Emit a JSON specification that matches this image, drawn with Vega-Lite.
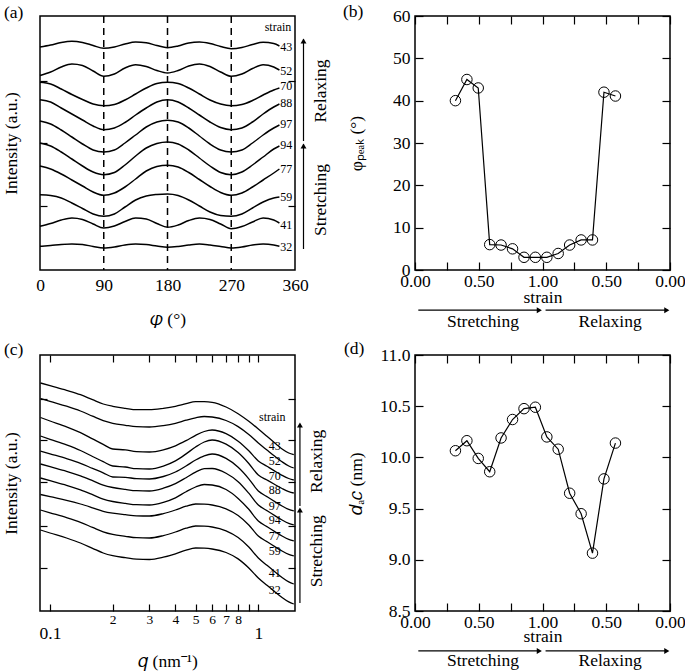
{
"$schema": "https://vega.github.io/schema/vega-lite/v6.json",
"background": "white",
"padding": {"left": 1, "top": 1, "right": 5, "bottom": 2},
"bounds": "flush",
"columns": 2,
"spacing": {"row": 85, "column": 120},
"config": {
  "view": {"stroke": "black", "strokeWidth": 1.5},
  "font": "Liberation Serif",
  "style": {"guide-label": {"font": "Liberation Serif", "fill": "black"}, "guide-title": {"font": "Liberation Serif", "fill": "black"}},
  "axis": {"labelFont": "Liberation Serif", "titleFont": "Liberation Serif", "labelColor": "black", "titleColor": "black", "tickColor": "black", "tickWidth": 1.2, "domain": false, "grid": false, "labelFontSize": 17.5, "titleFontSize": 17.5, "titleFontWeight": "normal", "labelFlush": false, "labelOverlap": false},
  "title": {"font": "Liberation Serif", "fontSize": 17.5, "fontWeight": "normal", "anchor": "start", "frame": "group", "color": "black"},
  "text": {"font": "Liberation Serif", "color": "black"}
},
"datasets": {
"a": [
{"s":"43","p":0,"v":22.3},{"s":"43","p":15,"v":22.5},{"s":"43","p":30,"v":22.75},{"s":"43","p":45,"v":22.87},{"s":"43","p":60,"v":22.75},{"s":"43","p":75,"v":22.45},{"s":"43","p":90,"v":22.17},{"s":"43","p":105,"v":22.3},{"s":"43","p":120,"v":22.6},{"s":"43","p":135,"v":22.8},{"s":"43","p":150,"v":22.72},{"s":"43","p":165,"v":22.45},{"s":"43","p":180,"v":22.23},{"s":"43","p":195,"v":22.4},{"s":"43","p":210,"v":22.7},{"s":"43","p":225,"v":22.8},{"s":"43","p":240,"v":22.65},{"s":"43","p":255,"v":22.35},{"s":"43","p":270,"v":22.13},{"s":"43","p":285,"v":22.25},{"s":"43","p":300,"v":22.55},{"s":"43","p":315,"v":22.77},{"s":"43","p":330,"v":22.65},{"s":"43","p":338,"v":22.4},
{"s":"52","p":0,"v":19.45},{"s":"52","p":15,"v":19.8},{"s":"52","p":30,"v":20.3},{"s":"52","p":45,"v":20.6},{"s":"52","p":60,"v":20.45},{"s":"52","p":75,"v":19.9},{"s":"52","p":90,"v":19.37},{"s":"52","p":105,"v":19.6},{"s":"52","p":120,"v":20.2},{"s":"52","p":135,"v":20.53},{"s":"52","p":150,"v":20.35},{"s":"52","p":165,"v":19.95},{"s":"52","p":180,"v":19.7},{"s":"52","p":195,"v":19.95},{"s":"52","p":210,"v":20.4},{"s":"52","p":225,"v":20.6},{"s":"52","p":240,"v":20.35},{"s":"52","p":255,"v":19.8},{"s":"52","p":270,"v":19.37},{"s":"52","p":285,"v":19.6},{"s":"52","p":300,"v":20.15},{"s":"52","p":315,"v":20.53},{"s":"52","p":330,"v":20.3},{"s":"52","p":338,"v":20.0},
{"s":"70","p":0,"v":18.77},{"s":"70","p":15,"v":18.6},{"s":"70","p":30,"v":18.1},{"s":"70","p":45,"v":17.55},{"s":"70","p":60,"v":17.05},{"s":"70","p":75,"v":16.6},{"s":"70","p":90,"v":16.43},{"s":"70","p":105,"v":16.55},{"s":"70","p":120,"v":17.0},{"s":"70","p":135,"v":17.6},{"s":"70","p":150,"v":18.2},{"s":"70","p":165,"v":18.65},{"s":"70","p":180,"v":18.77},{"s":"70","p":195,"v":18.65},{"s":"70","p":210,"v":18.2},{"s":"70","p":225,"v":17.6},{"s":"70","p":240,"v":17.0},{"s":"70","p":255,"v":16.6},{"s":"70","p":270,"v":16.43},{"s":"70","p":285,"v":16.55},{"s":"70","p":300,"v":16.95},{"s":"70","p":315,"v":17.5},{"s":"70","p":330,"v":18.0},{"s":"70","p":338,"v":18.2},
{"s":"88","p":0,"v":17.03},{"s":"88","p":15,"v":16.8},{"s":"88","p":30,"v":16.2},{"s":"88","p":45,"v":15.6},{"s":"88","p":60,"v":15.0},{"s":"88","p":75,"v":14.4},{"s":"88","p":90,"v":14.03},{"s":"88","p":105,"v":14.2},{"s":"88","p":120,"v":14.75},{"s":"88","p":135,"v":15.5},{"s":"88","p":150,"v":16.2},{"s":"88","p":165,"v":16.8},{"s":"88","p":180,"v":17.03},{"s":"88","p":195,"v":16.8},{"s":"88","p":210,"v":16.2},{"s":"88","p":225,"v":15.5},{"s":"88","p":240,"v":14.8},{"s":"88","p":255,"v":14.25},{"s":"88","p":270,"v":14.03},{"s":"88","p":285,"v":14.2},{"s":"88","p":300,"v":14.8},{"s":"88","p":315,"v":15.6},{"s":"88","p":330,"v":16.3},{"s":"88","p":338,"v":16.6},
{"s":"97","p":0,"v":14.9},{"s":"97","p":15,"v":14.6},{"s":"97","p":30,"v":14.0},{"s":"97","p":45,"v":13.3},{"s":"97","p":60,"v":12.6},{"s":"97","p":75,"v":12.0},{"s":"97","p":90,"v":11.8},{"s":"97","p":105,"v":12.0},{"s":"97","p":120,"v":12.7},{"s":"97","p":135,"v":13.5},{"s":"97","p":150,"v":14.3},{"s":"97","p":165,"v":14.8},{"s":"97","p":180,"v":14.97},{"s":"97","p":195,"v":14.8},{"s":"97","p":210,"v":14.2},{"s":"97","p":225,"v":13.4},{"s":"97","p":240,"v":12.6},{"s":"97","p":255,"v":12.0},{"s":"97","p":270,"v":11.8},{"s":"97","p":285,"v":12.0},{"s":"97","p":300,"v":12.7},{"s":"97","p":315,"v":13.5},{"s":"97","p":330,"v":14.2},{"s":"97","p":338,"v":14.5},
{"s":"94","p":0,"v":12.7},{"s":"94","p":15,"v":12.4},{"s":"94","p":30,"v":11.8},{"s":"94","p":45,"v":11.1},{"s":"94","p":60,"v":10.4},{"s":"94","p":75,"v":9.8},{"s":"94","p":90,"v":9.53},{"s":"94","p":105,"v":9.75},{"s":"94","p":120,"v":10.5},{"s":"94","p":135,"v":11.4},{"s":"94","p":150,"v":12.2},{"s":"94","p":165,"v":12.65},{"s":"94","p":180,"v":12.8},{"s":"94","p":195,"v":12.6},{"s":"94","p":210,"v":12.0},{"s":"94","p":225,"v":11.2},{"s":"94","p":240,"v":10.4},{"s":"94","p":255,"v":9.75},{"s":"94","p":270,"v":9.53},{"s":"94","p":285,"v":9.8},{"s":"94","p":300,"v":10.5},{"s":"94","p":315,"v":11.3},{"s":"94","p":330,"v":12.1},{"s":"94","p":338,"v":12.4},
{"s":"77","p":0,"v":10.4},{"s":"77","p":15,"v":10.1},{"s":"77","p":30,"v":9.6},{"s":"77","p":45,"v":9.0},{"s":"77","p":60,"v":8.4},{"s":"77","p":75,"v":7.8},{"s":"77","p":90,"v":7.47},{"s":"77","p":105,"v":7.7},{"s":"77","p":120,"v":8.3},{"s":"77","p":135,"v":9.1},{"s":"77","p":150,"v":9.9},{"s":"77","p":165,"v":10.35},{"s":"77","p":180,"v":10.47},{"s":"77","p":195,"v":10.3},{"s":"77","p":210,"v":9.75},{"s":"77","p":225,"v":9.05},{"s":"77","p":240,"v":8.35},{"s":"77","p":255,"v":7.75},{"s":"77","p":270,"v":7.47},{"s":"77","p":285,"v":7.7},{"s":"77","p":300,"v":8.3},{"s":"77","p":315,"v":9.0},{"s":"77","p":330,"v":9.7},{"s":"77","p":338,"v":10.1},
{"s":"59","p":0,"v":7.53},{"s":"59","p":15,"v":7.45},{"s":"59","p":30,"v":7.2},{"s":"59","p":45,"v":6.7},{"s":"59","p":60,"v":6.15},{"s":"59","p":75,"v":5.6},{"s":"59","p":90,"v":5.37},{"s":"59","p":105,"v":5.6},{"s":"59","p":120,"v":6.3},{"s":"59","p":135,"v":7.0},{"s":"59","p":150,"v":7.4},{"s":"59","p":165,"v":7.55},{"s":"59","p":180,"v":7.6},{"s":"59","p":195,"v":7.45},{"s":"59","p":210,"v":7.0},{"s":"59","p":225,"v":6.4},{"s":"59","p":240,"v":5.8},{"s":"59","p":255,"v":5.45},{"s":"59","p":270,"v":5.37},{"s":"59","p":285,"v":5.6},{"s":"59","p":300,"v":6.2},{"s":"59","p":315,"v":6.8},{"s":"59","p":330,"v":7.2},{"s":"59","p":338,"v":7.3},
{"s":"41","p":0,"v":4.37},{"s":"41","p":15,"v":4.65},{"s":"41","p":30,"v":5.0},{"s":"41","p":45,"v":5.2},{"s":"41","p":60,"v":5.05},{"s":"41","p":75,"v":4.6},{"s":"41","p":90,"v":4.2},{"s":"41","p":105,"v":4.4},{"s":"41","p":120,"v":4.85},{"s":"41","p":135,"v":5.2},{"s":"41","p":150,"v":5.1},{"s":"41","p":165,"v":4.65},{"s":"41","p":180,"v":4.27},{"s":"41","p":195,"v":4.5},{"s":"41","p":210,"v":4.95},{"s":"41","p":225,"v":5.2},{"s":"41","p":240,"v":5.05},{"s":"41","p":255,"v":4.6},{"s":"41","p":270,"v":4.13},{"s":"41","p":285,"v":4.35},{"s":"41","p":300,"v":4.8},{"s":"41","p":315,"v":5.2},{"s":"41","p":330,"v":5.0},{"s":"41","p":338,"v":4.7},
{"s":"32","p":0,"v":2.37},{"s":"32","p":15,"v":2.45},{"s":"32","p":30,"v":2.55},{"s":"32","p":45,"v":2.6},{"s":"32","p":60,"v":2.55},{"s":"32","p":75,"v":2.35},{"s":"32","p":90,"v":2.2},{"s":"32","p":105,"v":2.3},{"s":"32","p":120,"v":2.5},{"s":"32","p":135,"v":2.6},{"s":"32","p":150,"v":2.55},{"s":"32","p":165,"v":2.4},{"s":"32","p":180,"v":2.27},{"s":"32","p":195,"v":2.35},{"s":"32","p":210,"v":2.5},{"s":"32","p":225,"v":2.6},{"s":"32","p":240,"v":2.5},{"s":"32","p":255,"v":2.35},{"s":"32","p":270,"v":2.2},{"s":"32","p":285,"v":2.3},{"s":"32","p":300,"v":2.5},{"s":"32","p":315,"v":2.6},{"s":"32","p":330,"v":2.5},{"s":"32","p":338,"v":2.37}
],
"c": [
{"s":"43","q":0.09,"v":22.8},{"s":"43","q":0.1,"v":22.53},{"s":"43","q":0.12,"v":22.07},{"s":"43","q":0.14,"v":21.63},{"s":"43","q":0.16,"v":21.13},{"s":"43","q":0.18,"v":20.7},{"s":"43","q":0.2,"v":20.47},{"s":"43","q":0.23,"v":20.27},{"s":"43","q":0.26,"v":20.13},{"s":"43","q":0.3,"v":20.13},{"s":"43","q":0.35,"v":20.27},{"s":"43","q":0.4,"v":20.47},{"s":"43","q":0.45,"v":20.73},{"s":"43","q":0.5,"v":20.93},{"s":"43","q":0.55,"v":20.93},{"s":"43","q":0.6,"v":20.87},{"s":"43","q":0.7,"v":20.4},{"s":"43","q":0.8,"v":19.73},{"s":"43","q":0.9,"v":18.97},{"s":"43","q":1.0,"v":18.2},{"s":"43","q":1.1,"v":17.47},{"s":"43","q":1.2,"v":16.8},{"s":"43","q":1.3,"v":16.2},{"s":"43","q":1.4,"v":15.8},{"s":"43","q":1.48,"v":15.63},
{"s":"52","q":0.09,"v":21.25},{"s":"52","q":0.1,"v":20.96},{"s":"52","q":0.12,"v":20.48},{"s":"52","q":0.14,"v":20.0},{"s":"52","q":0.16,"v":19.48},{"s":"52","q":0.18,"v":19.03},{"s":"52","q":0.2,"v":18.77},{"s":"52","q":0.23,"v":18.57},{"s":"52","q":0.26,"v":18.43},{"s":"52","q":0.3,"v":18.4},{"s":"52","q":0.35,"v":18.54},{"s":"52","q":0.4,"v":18.77},{"s":"52","q":0.45,"v":19.08},{"s":"52","q":0.5,"v":19.32},{"s":"52","q":0.55,"v":19.45},{"s":"52","q":0.6,"v":19.4},{"s":"52","q":0.7,"v":19.05},{"s":"52","q":0.8,"v":18.44},{"s":"52","q":0.9,"v":17.65},{"s":"52","q":1.0,"v":16.8},{"s":"52","q":1.1,"v":16.1},{"s":"52","q":1.2,"v":15.47},{"s":"52","q":1.3,"v":14.92},{"s":"52","q":1.4,"v":14.5},{"s":"52","q":1.48,"v":14.3},
{"s":"70","q":0.09,"v":19.35},{"s":"70","q":0.1,"v":19.0},{"s":"70","q":0.12,"v":18.42},{"s":"70","q":0.14,"v":17.83},{"s":"70","q":0.16,"v":17.21},{"s":"70","q":0.18,"v":16.66},{"s":"70","q":0.2,"v":16.2},{"s":"70","q":0.23,"v":16.11},{"s":"70","q":0.26,"v":15.93},{"s":"70","q":0.3,"v":15.9},{"s":"70","q":0.35,"v":16.12},{"s":"70","q":0.4,"v":16.52},{"s":"70","q":0.45,"v":17.04},{"s":"70","q":0.5,"v":17.57},{"s":"70","q":0.55,"v":17.95},{"s":"70","q":0.6,"v":18.1},{"s":"70","q":0.7,"v":17.73},{"s":"70","q":0.8,"v":16.98},{"s":"70","q":0.9,"v":16.02},{"s":"70","q":1.0,"v":15.0},{"s":"70","q":1.1,"v":14.47},{"s":"70","q":1.2,"v":13.99},{"s":"70","q":1.3,"v":13.57},{"s":"70","q":1.4,"v":13.25},{"s":"70","q":1.48,"v":13.1},
{"s":"88","q":0.09,"v":17.5},{"s":"88","q":0.1,"v":17.17},{"s":"88","q":0.12,"v":16.61},{"s":"88","q":0.14,"v":16.05},{"s":"88","q":0.16,"v":15.45},{"s":"88","q":0.18,"v":14.93},{"s":"88","q":0.2,"v":14.5},{"s":"88","q":0.23,"v":14.4},{"s":"88","q":0.26,"v":14.23},{"s":"88","q":0.3,"v":14.2},{"s":"88","q":0.35,"v":14.49},{"s":"88","q":0.4,"v":15.01},{"s":"88","q":0.45,"v":15.71},{"s":"88","q":0.5,"v":16.4},{"s":"88","q":0.55,"v":16.9},{"s":"88","q":0.6,"v":17.1},{"s":"88","q":0.7,"v":16.68},{"s":"88","q":0.8,"v":15.84},{"s":"88","q":0.9,"v":14.75},{"s":"88","q":1.0,"v":13.6},{"s":"88","q":1.1,"v":13.1},{"s":"88","q":1.2,"v":12.65},{"s":"88","q":1.3,"v":12.25},{"s":"88","q":1.4,"v":11.94},{"s":"88","q":1.48,"v":11.8},
{"s":"97","q":0.09,"v":16.0},{"s":"97","q":0.1,"v":15.72},{"s":"97","q":0.12,"v":15.24},{"s":"97","q":0.14,"v":14.77},{"s":"97","q":0.16,"v":14.26},{"s":"97","q":0.18,"v":13.82},{"s":"97","q":0.2,"v":13.4},{"s":"97","q":0.23,"v":13.37},{"s":"97","q":0.26,"v":13.23},{"s":"97","q":0.3,"v":13.2},{"s":"97","q":0.35,"v":13.45},{"s":"97","q":0.4,"v":13.9},{"s":"97","q":0.45,"v":14.5},{"s":"97","q":0.5,"v":15.1},{"s":"97","q":0.55,"v":15.52},{"s":"97","q":0.6,"v":15.7},{"s":"97","q":0.7,"v":15.26},{"s":"97","q":0.8,"v":14.37},{"s":"97","q":0.9,"v":13.22},{"s":"97","q":1.0,"v":12.0},{"s":"97","q":1.1,"v":11.44},{"s":"97","q":1.2,"v":10.94},{"s":"97","q":1.3,"v":10.5},{"s":"97","q":1.4,"v":10.16},{"s":"97","q":1.48,"v":10.0},
{"s":"94","q":0.09,"v":14.7},{"s":"94","q":0.1,"v":14.43},{"s":"94","q":0.12,"v":13.97},{"s":"94","q":0.14,"v":13.51},{"s":"94","q":0.16,"v":13.03},{"s":"94","q":0.18,"v":12.59},{"s":"94","q":0.2,"v":12.35},{"s":"94","q":0.23,"v":12.16},{"s":"94","q":0.26,"v":12.03},{"s":"94","q":0.3,"v":12.0},{"s":"94","q":0.35,"v":12.28},{"s":"94","q":0.4,"v":12.74},{"s":"94","q":0.45,"v":13.33},{"s":"94","q":0.5,"v":13.89},{"s":"94","q":0.55,"v":14.23},{"s":"94","q":0.6,"v":14.25},{"s":"94","q":0.7,"v":13.78},{"s":"94","q":0.8,"v":12.93},{"s":"94","q":0.9,"v":11.78},{"s":"94","q":1.0,"v":10.6},{"s":"94","q":1.1,"v":10.04},{"s":"94","q":1.2,"v":9.54},{"s":"94","q":1.3,"v":9.1},{"s":"94","q":1.4,"v":8.76},{"s":"94","q":1.48,"v":8.6},
{"s":"77","q":0.09,"v":13.3},{"s":"77","q":0.1,"v":13.03},{"s":"77","q":0.12,"v":12.57},{"s":"77","q":0.14,"v":12.11},{"s":"77","q":0.16,"v":11.63},{"s":"77","q":0.18,"v":11.19},{"s":"77","q":0.2,"v":10.95},{"s":"77","q":0.23,"v":10.76},{"s":"77","q":0.26,"v":10.63},{"s":"77","q":0.3,"v":10.6},{"s":"77","q":0.35,"v":10.87},{"s":"77","q":0.4,"v":11.32},{"s":"77","q":0.45,"v":11.93},{"s":"77","q":0.5,"v":12.4},{"s":"77","q":0.55,"v":12.65},{"s":"77","q":0.6,"v":12.6},{"s":"77","q":0.7,"v":12.15},{"s":"77","q":0.8,"v":11.26},{"s":"77","q":0.9,"v":10.17},{"s":"77","q":1.0,"v":9.0},{"s":"77","q":1.1,"v":8.44},{"s":"77","q":1.2,"v":7.94},{"s":"77","q":1.3,"v":7.5},{"s":"77","q":1.4,"v":7.16},{"s":"77","q":1.48,"v":7.0},
{"s":"59","q":0.09,"v":11.65},{"s":"59","q":0.1,"v":11.43},{"s":"59","q":0.12,"v":11.07},{"s":"59","q":0.14,"v":10.7},{"s":"59","q":0.16,"v":10.32},{"s":"59","q":0.18,"v":9.97},{"s":"59","q":0.2,"v":9.78},{"s":"59","q":0.23,"v":9.63},{"s":"59","q":0.26,"v":9.52},{"s":"59","q":0.3,"v":9.5},{"s":"59","q":0.35,"v":9.74},{"s":"59","q":0.4,"v":10.1},{"s":"59","q":0.45,"v":10.48},{"s":"59","q":0.5,"v":10.7},{"s":"59","q":0.55,"v":10.68},{"s":"59","q":0.6,"v":10.6},{"s":"59","q":0.7,"v":10.22},{"s":"59","q":0.8,"v":9.55},{"s":"59","q":0.9,"v":8.6},{"s":"59","q":1.0,"v":7.5},{"s":"59","q":1.1,"v":6.94},{"s":"59","q":1.2,"v":6.44},{"s":"59","q":1.3,"v":6.0},{"s":"59","q":1.4,"v":5.66},{"s":"59","q":1.48,"v":5.5},
{"s":"41","q":0.09,"v":10.1},{"s":"41","q":0.1,"v":9.82},{"s":"41","q":0.12,"v":9.34},{"s":"41","q":0.14,"v":8.87},{"s":"41","q":0.16,"v":8.36},{"s":"41","q":0.18,"v":7.92},{"s":"41","q":0.2,"v":7.66},{"s":"41","q":0.23,"v":7.47},{"s":"41","q":0.26,"v":7.33},{"s":"41","q":0.3,"v":7.3},{"s":"41","q":0.35,"v":7.54},{"s":"41","q":0.4,"v":7.9},{"s":"41","q":0.45,"v":8.28},{"s":"41","q":0.5,"v":8.5},{"s":"41","q":0.55,"v":8.48},{"s":"41","q":0.6,"v":8.4},{"s":"41","q":0.7,"v":8.02},{"s":"41","q":0.8,"v":7.35},{"s":"41","q":0.9,"v":6.4},{"s":"41","q":1.0,"v":5.3},{"s":"41","q":1.1,"v":4.57},{"s":"41","q":1.2,"v":3.92},{"s":"41","q":1.3,"v":3.35},{"s":"41","q":1.4,"v":2.91},{"s":"41","q":1.48,"v":2.7},
{"s":"32","q":0.09,"v":8.1},{"s":"32","q":0.1,"v":7.8},{"s":"32","q":0.12,"v":7.3},{"s":"32","q":0.14,"v":6.8},{"s":"32","q":0.16,"v":6.27},{"s":"32","q":0.18,"v":5.8},{"s":"32","q":0.2,"v":5.53},{"s":"32","q":0.23,"v":5.33},{"s":"32","q":0.26,"v":5.18},{"s":"32","q":0.3,"v":5.15},{"s":"32","q":0.35,"v":5.38},{"s":"32","q":0.4,"v":5.72},{"s":"32","q":0.45,"v":6.09},{"s":"32","q":0.5,"v":6.3},{"s":"32","q":0.55,"v":6.28},{"s":"32","q":0.6,"v":6.2},{"s":"32","q":0.7,"v":5.85},{"s":"32","q":0.8,"v":5.21},{"s":"32","q":0.9,"v":4.3},{"s":"32","q":1.0,"v":3.3},{"s":"32","q":1.1,"v":2.57},{"s":"32","q":1.2,"v":1.92},{"s":"32","q":1.3,"v":1.35},{"s":"32","q":1.4,"v":0.91},{"s":"32","q":1.48,"v":0.7}
],
"bd": [
{"x":0.317,"phi":40.0,"d":10.065},{"x":0.407,"phi":45.0,"d":10.163},{"x":0.496,"phi":43.0,"d":9.99},{"x":0.586,"phi":6.0,"d":9.86},{"x":0.675,"phi":5.9,"d":10.19},{"x":0.765,"phi":5.0,"d":10.37},{"x":0.855,"phi":3.0,"d":10.476},{"x":0.944,"phi":3.0,"d":10.49},{"x":1.034,"phi":3.0,"d":10.2},{"x":1.123,"phi":3.9,"d":10.08},{"x":1.213,"phi":5.9,"d":9.65},{"x":1.303,"phi":7.1,"d":9.45},{"x":1.392,"phi":7.1,"d":9.065},{"x":1.482,"phi":42.0,"d":9.79},{"x":1.572,"phi":41.1,"d":10.14}
]
},
"concat": [
 {
  "width": 255, "height": 254,
  "title": {"text": "(a)", "dx": -36, "dy": 6, "offset": 0, "baseline": "top"},
  "resolve": {"axis": {"x": "independent", "y": "independent"}},
  "layer": [
   {"data": {"name": "a"}, "mark": {"type": "line", "interpolate": "monotone", "strokeWidth": 1.5, "color": "black"},
    "encoding": {
     "x": {"field": "p", "type": "quantitative", "scale": {"domain": [0, 360], "nice": false, "zero": false},
           "axis": {"orient": "bottom", "values": [0, 90, 180, 270, 360], "ticks": false, "tickSize": 0, "labelPadding": 6, "labelFont": "Liberation Serif", "titleFont": "Liberation Serif", "title": "𝜑 (°)", "titlePadding": 17}},
     "y": {"field": "v", "type": "quantitative", "scale": {"domain": [0, 25.4], "nice": false, "zero": false},
           "axis": {"orient": "left", "values": [18.9, 12.7, 6.4], "labels": false, "tickSize": -7, "titleFont": "Liberation Serif", "title": "Intensity (a.u.)", "titlePadding": 19}},
     "detail": {"field": "s", "type": "nominal"}
    }},
   {"data": {"values": [{"p": 90}, {"p": 180}, {"p": 270}]}, "mark": {"type": "rule", "strokeDash": [7, 5], "strokeWidth": 1.5, "color": "black"},
    "encoding": {"x": {"field": "p", "type": "quantitative", "axis": null}}},
   {"data": {"values": [{"p":339,"v":22.3,"s":"43"},{"p":339,"v":19.9,"s":"52"},{"p":339,"v":18.4,"s":"70"},{"p":339,"v":16.7,"s":"88"},{"p":339,"v":14.6,"s":"97"},{"p":339,"v":12.5,"s":"94"},{"p":339,"v":10.15,"s":"77"},{"p":339,"v":7.3,"s":"59"},{"p":339,"v":4.55,"s":"41"},{"p":339,"v":2.3,"s":"32"}]},
    "mark": {"type": "text", "align": "left", "baseline": "middle", "fontSize": 12},
    "encoding": {"x": {"field": "p", "type": "quantitative", "axis": null},
                 "y": {"field": "v", "type": "quantitative", "axis": {"orient": "right", "values": [18.9, 6.4], "labels": false, "tickSize": -7, "title": null}},
                 "text": {"field": "s"}}},
   {"data": {"values": [{"p": 336, "v": 24.3, "t": "strain"}]}, "mark": {"type": "text", "align": "center", "baseline": "middle", "fontSize": 12},
    "encoding": {"x": {"field": "p", "type": "quantitative", "axis": null}, "y": {"field": "v", "type": "quantitative", "axis": null}, "text": {"field": "t"}}},
   {"data": {"values": [{"p": 372, "y1": 2.1, "y2": 12.6}, {"p": 372, "y1": 12.9, "y2": 23.1}]}, "mark": {"type": "rule", "strokeWidth": 1.2, "color": "black"},
    "encoding": {"x": {"field": "p", "type": "quantitative", "axis": null}, "y": {"field": "y1", "type": "quantitative", "axis": null}, "y2": {"field": "y2"}}},
   {"data": {"values": [{"p": 372, "v": 12.4}, {"p": 372, "v": 22.9}]}, "mark": {"type": "point", "shape": "triangle-up", "filled": true, "size": 35, "color": "black", "opacity": 1},
    "encoding": {"x": {"field": "p", "type": "quantitative", "axis": null}, "y": {"field": "v", "type": "quantitative", "axis": null}}},
   {"data": {"values": [{"p": 396, "v": 17.9, "t": "Relaxing"}, {"p": 396, "v": 7.0, "t": "Stretching"}]}, "mark": {"type": "text", "angle": 270, "align": "center", "baseline": "middle", "fontSize": 17.5},
    "encoding": {"x": {"field": "p", "type": "quantitative", "axis": null}, "y": {"field": "v", "type": "quantitative", "axis": null}, "text": {"field": "t"}}}
  ]
 },
 {
  "width": 255, "height": 254,
  "title": {"text": "(b)", "dx": -72, "dy": 13, "offset": 0, "baseline": "top"},
  "resolve": {"axis": {"x": "independent", "y": "independent"}},
  "layer": [
   {"data": {"name": "bd"}, "mark": {"type": "line", "strokeWidth": 1.2, "color": "black"},
    "encoding": {
     "x": {"field": "x", "type": "quantitative", "scale": {"domain": [0, 2], "nice": false, "zero": false},
           "axis": {"orient": "bottom", "values": [0, 0.25, 0.5, 0.75, 1, 1.25, 1.5, 1.75, 2], "labelExpr": "datum.value % 0.5 == 0 ? format(datum.value <= 1 ? datum.value : 2 - datum.value, '.2f') : ''", "tickSize": -8, "labelPadding": 10, "labelFont": "Liberation Serif", "titleFont": "Liberation Serif", "title": "strain", "titlePadding": -1}},
     "y": {"field": "phi", "type": "quantitative", "scale": {"domain": [0, 60], "nice": false, "zero": false},
           "axis": {"orient": "left", "values": [0, 10, 20, 30, 40, 50, 60], "tickSize": -8, "labelPadding": 13, "labelFont": "Liberation Serif", "titleFont": "Liberation Serif", "title": "φₚₑₐₖ (°)", "titlePadding": 27}}
    }},
   {"data": {"name": "bd"}, "mark": {"type": "point", "shape": "circle", "size": 110, "filled": false, "color": "black", "strokeWidth": 1, "opacity": 1},
    "encoding": {
     "x": {"field": "x", "type": "quantitative", "axis": {"orient": "top", "values": [0, 0.25, 0.5, 0.75, 1, 1.25, 1.5, 1.75, 2], "labels": false, "tickSize": -8, "title": null}},
     "y": {"field": "phi", "type": "quantitative", "axis": {"orient": "right", "values": [0, 10, 20, 30, 40, 50, 60], "labels": false, "tickSize": -8, "title": null}}
    }},
   {"data": {"values": [{"x1": 0.026, "x2": 0.98, "y": -9.5}, {"x1": 1.024, "x2": 1.98, "y": -9.5}]}, "mark": {"type": "rule", "strokeWidth": 1.2, "color": "black"},
    "encoding": {"x": {"field": "x1", "type": "quantitative", "axis": null}, "x2": {"field": "x2"}, "y": {"field": "y", "type": "quantitative", "axis": null}}},
   {"data": {"values": [{"x": 0.975, "y": -9.5}, {"x": 1.975, "y": -9.5}]}, "mark": {"type": "point", "shape": "triangle-right", "filled": true, "size": 35, "color": "black", "opacity": 1},
    "encoding": {"x": {"field": "x", "type": "quantitative", "axis": null}, "y": {"field": "y", "type": "quantitative", "axis": null}}},
   {"data": {"values": [{"x": 0.533, "y": -12.4, "t": "Stretching"}, {"x": 1.53, "y": -12.4, "t": "Relaxing"}]}, "mark": {"type": "text", "align": "center", "baseline": "middle", "fontSize": 17.5},
    "encoding": {"x": {"field": "x", "type": "quantitative", "axis": null}, "y": {"field": "y", "type": "quantitative", "axis": null}, "text": {"field": "t"}}}
  ]
 },
 {
  "width": 255, "height": 256,
  "title": {"text": "(c)", "dx": -36, "dy": 4, "offset": 0, "baseline": "top"},
  "resolve": {"axis": {"x": "independent", "y": "independent"}},
  "layer": [
   {"data": {"name": "c"}, "mark": {"type": "line", "interpolate": "monotone", "strokeWidth": 1.3, "color": "black"},
    "encoding": {
     "x": {"field": "q", "type": "quantitative", "scale": {"type": "log", "domain": [0.0895, 1.5], "nice": false},
           "axis": {"orient": "bottom", "values": [0.1, 0.2, 0.3, 0.4, 0.5, 0.6, 0.7, 0.8, 0.9, 1],
                    "labelExpr": "abs(datum.value-0.1)<1e-6 ? '0.1' : abs(datum.value-1)<1e-6 ? '1' : datum.value < 0.85 ? format(datum.value*10, '.0f') : ''",
                    "labelFontSize": {"condition": {"test": "abs(datum.value-0.1)<1e-6 || abs(datum.value-1)<1e-6", "value": 17.5}, "value": 13.5},
                    "labelPadding": {"condition": {"test": "abs(datum.value-0.1)<1e-6 || abs(datum.value-1)<1e-6", "value": 20}, "value": 8.5},
                    "labelFont": "Liberation Serif", "titleFont": "Liberation Serif",
                    "tickSize": -7, "title": "𝑞 (nm⁻¹)", "titlePadding": 11}},
     "y": {"field": "v", "type": "quantitative", "scale": {"domain": [0, 25.6], "nice": false, "zero": false},
           "axis": {"orient": "left", "values": [21.2, 17.1, 12.9, 8.5, 4.3], "labels": false, "tickSize": -7, "titleFont": "Liberation Serif", "title": "Intensity (a.u.)", "titlePadding": 19}},
     "detail": {"field": "s", "type": "nominal"}
    }},
   {"data": {"values": [{"q":1.2,"v":16.5,"s":"43"},{"q":1.2,"v":15.0,"s":"52"},{"q":1.2,"v":13.53,"s":"70"},{"q":1.2,"v":12.13,"s":"88"},{"q":1.2,"v":10.53,"s":"97"},{"q":1.2,"v":9.13,"s":"94"},{"q":1.2,"v":7.47,"s":"77"},{"q":1.2,"v":5.97,"s":"59"},{"q":1.2,"v":3.8,"s":"41"},{"q":1.2,"v":2.07,"s":"32"}]},
    "mark": {"type": "text", "align": "center", "baseline": "middle", "fontSize": 12},
    "encoding": {"x": {"field": "q", "type": "quantitative", "axis": {"orient": "top", "values": [0.1, 0.2, 0.3, 0.4, 0.5, 0.6, 0.7, 0.8, 0.9, 1], "labels": false, "tickSize": -7, "title": null}},
                 "y": {"field": "v", "type": "quantitative", "axis": {"orient": "right", "values": [21.2, 17.1, 12.9, 8.5, 4.3], "labels": false, "tickSize": -7, "title": null}},
                 "text": {"field": "s"}}},
   {"data": {"values": [{"q": 1.167, "v": 19.4, "t": "strain"}]}, "mark": {"type": "text", "align": "center", "baseline": "middle", "fontSize": 12},
    "encoding": {"x": {"field": "q", "type": "quantitative", "axis": null}, "y": {"field": "v", "type": "quantitative", "axis": null}, "text": {"field": "t"}}},
   {"data": {"values": [{"q": 1.584, "y1": 0.8, "y2": 10.2}, {"q": 1.584, "y1": 10.5, "y2": 18.7}]}, "mark": {"type": "rule", "strokeWidth": 1.2, "color": "black"},
    "encoding": {"x": {"field": "q", "type": "quantitative", "axis": null}, "y": {"field": "y1", "type": "quantitative", "axis": null}, "y2": {"field": "y2"}}},
   {"data": {"values": [{"q": 1.584, "v": 10.1}, {"q": 1.584, "v": 18.6}]}, "mark": {"type": "point", "shape": "triangle-up", "filled": true, "size": 35, "color": "black", "opacity": 1},
    "encoding": {"x": {"field": "q", "type": "quantitative", "axis": null}, "y": {"field": "v", "type": "quantitative", "axis": null}}},
   {"data": {"values": [{"q": 1.92, "v": 14.97, "t": "Relaxing"}, {"q": 1.92, "v": 5.97, "t": "Stretching"}]}, "mark": {"type": "text", "angle": 270, "align": "center", "baseline": "middle", "fontSize": 17.5},
    "encoding": {"x": {"field": "q", "type": "quantitative", "axis": null}, "y": {"field": "v", "type": "quantitative", "axis": null}, "text": {"field": "t"}}}
  ]
 },
 {
  "width": 255, "height": 256,
  "title": {"text": "(d)", "dx": -71, "dy": 11, "offset": 0, "baseline": "top"},
  "resolve": {"axis": {"x": "independent", "y": "independent"}},
  "layer": [
   {"data": {"name": "bd"}, "mark": {"type": "line", "strokeWidth": 1.2, "color": "black"},
    "encoding": {
     "x": {"field": "x", "type": "quantitative", "scale": {"domain": [0, 2], "nice": false, "zero": false},
           "axis": {"orient": "bottom", "values": [0, 0.25, 0.5, 0.75, 1, 1.25, 1.5, 1.75, 2], "labelExpr": "datum.value % 0.5 == 0 ? format(datum.value <= 1 ? datum.value : 2 - datum.value, '.2f') : ''", "tickSize": -8, "labelPadding": 10, "labelFont": "Liberation Serif", "titleFont": "Liberation Serif", "title": "strain", "titlePadding": -3}},
     "y": {"field": "d", "type": "quantitative", "scale": {"domain": [8.5, 11], "nice": false, "zero": false},
           "axis": {"orient": "left", "values": [8.5, 9, 9.5, 10, 10.5, 11], "format": ".1f", "tickSize": -8, "labelPadding": 13, "labelFont": "Liberation Serif", "titleFont": "Liberation Serif", "title": "𝑑ₐ𝑐 (nm)", "titlePadding": 14}}
    }},
   {"data": {"name": "bd"}, "mark": {"type": "point", "shape": "circle", "size": 110, "filled": false, "color": "black", "strokeWidth": 1, "opacity": 1},
    "encoding": {
     "x": {"field": "x", "type": "quantitative", "axis": {"orient": "top", "values": [0, 0.25, 0.5, 0.75, 1, 1.25, 1.5, 1.75, 2], "labels": false, "tickSize": -8, "title": null}},
     "y": {"field": "d", "type": "quantitative", "axis": {"orient": "right", "values": [8.5, 9, 9.5, 10, 10.5, 11], "labels": false, "tickSize": -8, "title": null}}
    }},
   {"data": {"values": [{"x1": 0.026, "x2": 0.98, "y": 8.11}, {"x1": 1.024, "x2": 1.98, "y": 8.11}]}, "mark": {"type": "rule", "strokeWidth": 1.2, "color": "black"},
    "encoding": {"x": {"field": "x1", "type": "quantitative", "axis": null}, "x2": {"field": "x2"}, "y": {"field": "y", "type": "quantitative", "axis": null}}},
   {"data": {"values": [{"x": 0.975, "y": 8.11}, {"x": 1.975, "y": 8.11}]}, "mark": {"type": "point", "shape": "triangle-right", "filled": true, "size": 35, "color": "black", "opacity": 1},
    "encoding": {"x": {"field": "x", "type": "quantitative", "axis": null}, "y": {"field": "y", "type": "quantitative", "axis": null}}},
   {"data": {"values": [{"x": 0.533, "y": 8.01, "t": "Stretching"}, {"x": 1.53, "y": 8.01, "t": "Relaxing"}]}, "mark": {"type": "text", "align": "center", "baseline": "middle", "fontSize": 17.5},
    "encoding": {"x": {"field": "x", "type": "quantitative", "axis": null}, "y": {"field": "y", "type": "quantitative", "axis": null}, "text": {"field": "t"}}}
  ]
 }
]
}
